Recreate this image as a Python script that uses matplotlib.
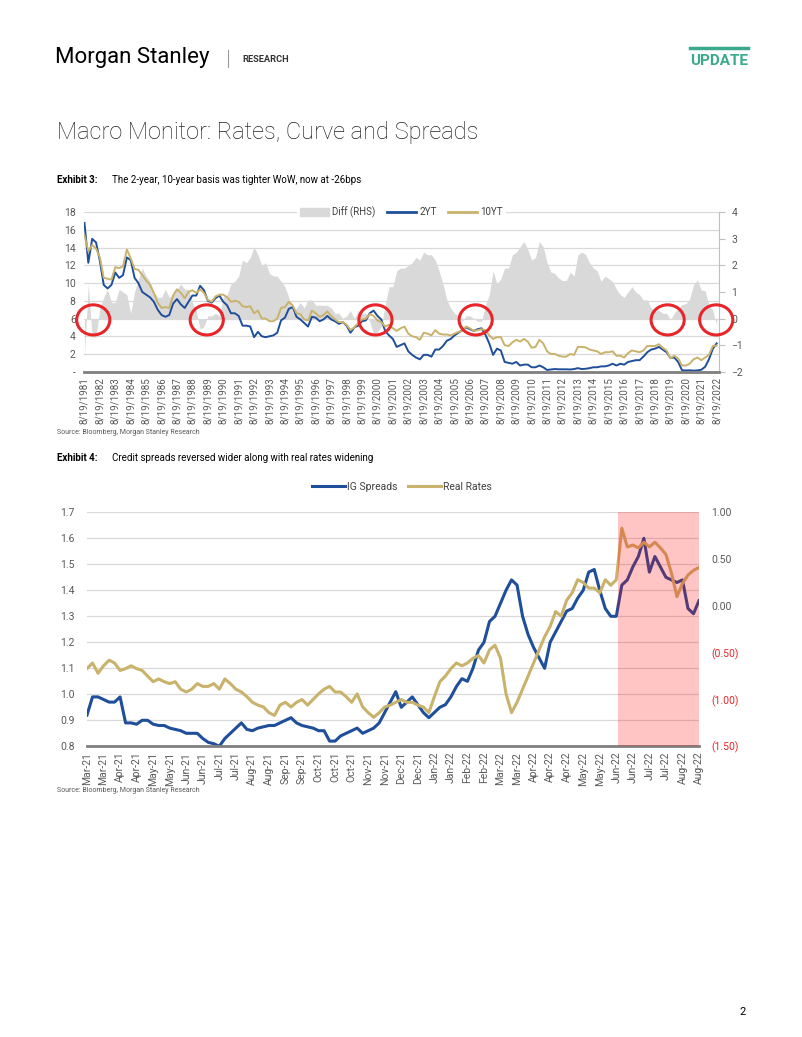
import numpy as np
import matplotlib
matplotlib.use("Agg")
import matplotlib.pyplot as plt
from matplotlib.patches import Ellipse, Patch
from matplotlib.lines import Line2D

# ---- Exhibit 3: quarterly UST yields (Aug/Nov/Feb/May), Aug-1981 .. Aug-2022
two_yr = [
    16.8, 12.3,
    15.0, 14.6, 12.5, 9.8,   9.4, 9.8, 11.2, 10.6,   10.9, 12.9, 12.6, 10.6,
    10.0, 9.0, 8.7, 8.4,     7.9, 7.0, 6.4, 6.2,     6.4, 7.7, 8.2, 7.6,
    7.2, 7.9, 8.6, 8.6,      9.7, 9.2, 8.0, 7.8,     8.3, 8.6, 7.9, 7.5,
    6.6, 6.6, 6.3, 5.2,      5.2, 5.1, 3.9, 4.5,     4.0, 3.9, 4.0, 4.1,
    4.4, 5.8, 6.1, 7.1,      7.3, 6.2, 5.9, 5.5,     5.1, 6.2, 6.1, 5.7,
    5.9, 6.3, 5.9, 5.7,      5.4, 5.6, 5.2, 4.4,     5.0, 5.2, 5.7, 5.8,
    6.6, 6.9, 6.3, 5.9,      4.6, 4.1, 3.7, 2.8,     3.0, 3.2, 2.3, 1.9,
    1.6, 1.4, 1.9, 1.9,      1.7, 2.5, 2.5, 2.9,     3.5, 3.7, 4.1, 4.4,
    4.7, 5.0, 4.8, 4.6,      4.8, 4.9, 4.2, 3.2,     1.9, 2.6, 2.4, 1.1,
    1.0, 0.9, 1.1, 0.7,      0.8, 0.8, 0.5, 0.5,     0.7, 0.5, 0.2, 0.25,
    0.3, 0.27, 0.27, 0.27,   0.25, 0.3, 0.4, 0.3,    0.33, 0.4, 0.5, 0.5,
    0.6, 0.6, 0.7, 0.9,      0.7, 0.9, 0.8, 1.1,     1.2, 1.3, 1.3, 1.7,
    2.2, 2.5, 2.6, 2.8,      2.5, 2.2, 1.55, 1.6,    1.1, 0.17, 0.14, 0.16,
    0.12, 0.15, 0.22, 0.55,  1.4, 2.6, 3.2,
]
ten_yr = [
    15.4, 13.6,
    14.3, 13.9, 12.9, 10.6,  10.5, 10.4, 11.8, 11.7,  11.9, 13.8, 12.8, 11.6,
    11.5, 10.9, 10.3, 9.8,   8.9, 7.8, 7.2, 7.3,     7.2, 8.6, 9.3, 8.9,
    8.3, 9.0, 9.2, 8.9,      9.3, 8.9, 8.1, 7.9,     8.5, 8.7, 8.7, 8.4,
    7.9, 8.0, 7.9, 7.4,      7.3, 7.4, 6.6, 6.9,     6.0, 6.0, 5.7, 5.7,
    6.0, 7.2, 7.3, 7.9,      7.5, 6.6, 6.5, 5.9,     5.8, 6.9, 6.6, 6.2,
    6.4, 6.8, 6.3, 5.9,      5.6, 5.6, 5.3, 4.7,     5.0, 5.5, 5.9, 6.0,
    6.5, 6.3, 5.8, 5.6,      5.1, 5.3, 4.9, 4.6,     4.9, 5.1, 4.3, 4.0,
    3.9, 3.6, 4.4, 4.3,      4.1, 4.7, 4.3, 4.2,     4.2, 4.1, 4.3, 4.5,
    4.6, 5.1, 4.9, 4.6,      4.7, 4.8, 4.7, 4.1,     3.7, 3.9, 3.9, 3.0,
    2.9, 3.3, 3.6, 3.4,      3.7, 3.4, 2.7, 2.8,     3.6, 3.2, 2.3, 2.0,
    2.0, 1.8, 1.7, 1.7,      2.0, 1.9, 2.8, 2.8,     2.75, 2.5, 2.4, 2.3,
    2.0, 2.2, 2.2, 2.3,      1.8, 1.8, 1.6, 2.1,     2.4, 2.3, 2.2, 2.4,
    2.9, 2.9, 2.9, 3.1,      2.7, 2.4, 1.5, 1.8,     1.5, 0.7, 0.7, 0.9,
    1.4, 1.6, 1.3, 1.6,      1.9, 2.9, 2.95,
]
label_years = list(range(1981, 2023))
circle_years = [1982.2, 1989.56, 2000.5, 2007.0, 2019.45, 2022.6]

# ---- Exhibit 4: IG spreads (LHS) and real rates (RHS), 3 obs per tick
ig_spreads = [
    0.92, 0.99, 0.99, 0.98, 0.97, 0.97, 0.99, 0.89, 0.89, 0.885,
    0.90, 0.90, 0.885, 0.88, 0.88, 0.87, 0.865, 0.86, 0.85, 0.85,
    0.85, 0.83, 0.815, 0.81, 0.80, 0.83, 0.85, 0.87, 0.89, 0.865,
    0.86, 0.87, 0.875, 0.88, 0.88, 0.89, 0.90, 0.91, 0.89, 0.88,
    0.875, 0.87, 0.86, 0.86, 0.82, 0.82, 0.84, 0.85, 0.86, 0.87,
    0.85, 0.86, 0.87, 0.89, 0.93, 0.97, 1.01, 0.95, 0.97, 0.99,
    0.96, 0.93, 0.91, 0.93, 0.95, 0.96, 0.99, 1.03, 1.06, 1.05,
    1.10, 1.17, 1.20, 1.28, 1.30, 1.35, 1.40, 1.44, 1.42, 1.30,
    1.23, 1.18, 1.14, 1.10, 1.20, 1.24, 1.28, 1.32, 1.33, 1.37,
    1.40, 1.47, 1.48, 1.40, 1.33, 1.30, 1.30, 1.42, 1.44, 1.49,
    1.53, 1.60, 1.47, 1.53, 1.49, 1.45, 1.44, 1.43, 1.44, 1.33,
    1.31, 1.36,
]
real_rates = [
    -0.67, -0.61, -0.72, -0.64, -0.58, -0.61, -0.69, -0.67, -0.64, -0.67,
    -0.69, -0.75, -0.81, -0.78, -0.81, -0.83, -0.81, -0.89, -0.92, -0.89,
    -0.83, -0.86, -0.86, -0.83, -0.89, -0.78, -0.83, -0.89, -0.92, -0.97,
    -1.03, -1.06, -1.08, -1.14, -1.17, -1.06, -1.03, -1.08, -1.03, -1.00,
    -1.06, -1.00, -0.94, -0.89, -0.86, -0.92, -0.92, -0.97, -1.03, -0.94,
    -1.08, -1.14, -1.19, -1.14, -1.08, -1.06, -1.03, -1.00, -1.03, -1.03,
    -1.06, -1.08, -1.14, -0.97, -0.81, -0.75, -0.67, -0.61, -0.64, -0.61,
    -0.56, -0.53, -0.61, -0.47, -0.42, -0.56, -0.94, -1.14, -1.03, -0.89,
    -0.75, -0.61, -0.47, -0.33, -0.22, -0.06, -0.11, 0.06, 0.14, 0.28,
    0.25, 0.19, 0.19, 0.14, 0.28, 0.22, 0.28, 0.83, 0.63, 0.65,
    0.62, 0.68, 0.63, 0.68, 0.62, 0.55, 0.35, 0.10, 0.24, 0.33,
    0.38, 0.41,
]
date_labels = [
    "Mar-21", "Mar-21", "Apr-21", "Apr-21", "May-21", "May-21", "Jun-21", "Jun-21",
    "Jul-21", "Jul-21", "Aug-21", "Aug-21", "Sep-21", "Sep-21", "Oct-21", "Oct-21",
    "Oct-21", "Nov-21", "Nov-21", "Dec-21", "Dec-21", "Jan-22", "Jan-22", "Feb-22",
    "Feb-22", "Mar-22", "Mar-22", "Apr-22", "Apr-22", "Apr-22", "May-22", "May-22",
    "Jun-22", "Jun-22", "Jul-22", "Jul-22", "Aug-22", "Aug-22",
]
shade_from = 32.1   # tick position where the shaded window starts

W, H = 802, 1037
BLUE = "#1F4E9A"
GOLD = "#C9B26B"
AREA = "#D9D9D9"
GRID = "#D9D9D9"
AXIS = "#7F7F7F"
TXT = "#595959"
RED = "#E8262A"

plt.rcParams["font.family"] = ["Roboto", "DejaVu Sans"]


def box(l, t, r, b):
    return [l / W, 1 - b / H, (r - l) / W, (b - t) / H]


def fx(x):
    return x / W


def fy(y):
    return 1 - y / H


fig = plt.figure(figsize=(W / 100, H / 100), dpi=100)

# ---- page header
fig.text(fx(55), fy(58), "Morgan Stanley", fontsize=16, color="black", va="center")
fig.add_artist(Line2D([fx(228), fx(228)], [fy(50), fy(67)], color="#999999", lw=0.8))
fig.text(fx(242), fy(59), "RESEARCH", fontsize=6.7, fontweight="bold", color="#333333", va="center")
fig.add_artist(Line2D([fx(690), fx(748)], [fy(48), fy(48)], color="#3AAA8C", lw=2.5))
fig.text(fx(748), fy(61), "UPDATE", fontsize=11, fontweight="bold", color="#3AAA8C",
         va="center", ha="right")
fig.text(fx(57), fy(133), "Macro Monitor: Rates, Curve and Spreads", fontsize=17,
         fontweight="light", color="#222222", va="center")

fig.text(fx(57), fy(180), "Exhibit 3:", fontsize=7, fontweight="bold", va="center")
fig.text(fx(112), fy(180), "The 2-year, 10-year basis was tighter WoW, now at -26bps",
         fontsize=7, va="center")
fig.text(fx(57), fy(432), "Source: Bloomberg, Morgan Stanley Research", fontsize=5,
         color=TXT, va="center")
fig.text(fx(57), fy(458), "Exhibit 4:", fontsize=7, fontweight="bold", va="center")
fig.text(fx(112), fy(458), "Credit spreads reversed wider along with real rates widening",
         fontsize=7, va="center")
fig.text(fx(57), fy(791), "Source: Bloomberg, Morgan Stanley Research", fontsize=5,
         color=TXT, va="center")
fig.text(fx(746), fy(1012), "2", fontsize=8, va="center", ha="right")

# ---- Exhibit 3
x1 = 1981.63 + 0.25 * np.arange(len(two_yr))
diff = np.array(ten_yr) - np.array(two_yr)

ax1 = fig.add_axes(box(84, 212.3, 719, 371.7))
ax1r = ax1.twinx()
ax1.set_zorder(ax1r.get_zorder() + 1)
ax1.patch.set_visible(False)

ax1r.fill_between(x1, 0, diff, color=AREA, linewidth=0)
ax1r.set_ylim(-2, 4)
ax1r.set_yticks(range(-2, 5))
ax1r.tick_params(axis="y", length=4, color="#BFBFBF", labelsize=7.5, labelcolor=TXT, pad=5)
for s in ["top", "left", "bottom"]:
    ax1r.spines[s].set_visible(False)
ax1r.spines["right"].set_color("#BFBFBF")

ax1.plot(x1, two_yr, color=BLUE, lw=1.4)
ax1.plot(x1, ten_yr, color=GOLD, lw=1.4)
ax1.set_xlim(1981.6, 2022.78)
ax1.set_ylim(0, 18)
ax1.set_yticks(range(0, 19, 2))
ax1.set_yticklabels(["-"] + [str(v) for v in range(2, 19, 2)])
ax1.yaxis.grid(True, color=GRID, lw=0.9)
ax1.set_axisbelow(True)
ax1.tick_params(axis="y", length=0, labelsize=7.5, labelcolor=TXT, pad=6)
ax1.set_xticks([y + 0.63 for y in label_years])
ax1.set_xticklabels([f"8/19/{y}" for y in label_years], rotation=90, fontsize=7.1, color=TXT)
ax1.tick_params(axis="x", length=0, pad=4)
for s in ["top", "left", "right"]:
    ax1.spines[s].set_visible(False)
ax1.spines["bottom"].set_color(AXIS)
ax1.spines["bottom"].set_linewidth(2)

for cx in circle_years:
    ax1.add_patch(Ellipse((cx, 5.85), width=2.15, height=3.4, fill=False,
                          edgecolor=RED, lw=2.2, zorder=10, clip_on=False))

h1 = [Patch(color=AREA), Line2D([], [], color=BLUE, lw=2), Line2D([], [], color=GOLD, lw=2)]
leg1 = ax1.legend(h1, ["Diff (RHS)", "2YT", "10YT"], loc="center", bbox_to_anchor=(0.5, 1.0),
                  ncol=3, fontsize=7, frameon=True, facecolor="white", edgecolor="none",
                  framealpha=1, handlelength=3, handleheight=0.9, handletextpad=0.3,
                  columnspacing=1.2, borderpad=0.3, fancybox=False)
for t in leg1.get_texts():
    t.set_color("#404040")

# ---- Exhibit 4
x2 = np.arange(len(ig_spreads)) / 3.0

ax2 = fig.add_axes(box(87, 512.3, 699, 746.3))
ax2r = ax2.twinx()
ax2.plot(x2, ig_spreads, color=BLUE, lw=2.2)
ax2r.plot(x2, real_rates, color=GOLD, lw=2.2)
ax2r.axvspan(shade_from, 37, color="red", alpha=0.23, lw=0, zorder=5)

ax2.set_xlim(0, 37)
ax2.set_ylim(0.8, 1.7)
ax2.set_yticks(np.round(np.arange(0.8, 1.71, 0.1), 1))
ax2.set_yticklabels([f"{v:.1f}" for v in np.arange(0.8, 1.71, 0.1)])
ax2.yaxis.grid(True, color=GRID, lw=0.9)
ax2.set_axisbelow(True)
ax2.tick_params(axis="y", length=0, labelsize=7.5, labelcolor=TXT, pad=9)
ax2.set_xticks(range(len(date_labels)))
ax2.set_xticklabels(date_labels, rotation=90, fontsize=7.5, color=TXT)
ax2.tick_params(axis="x", length=0, pad=4)
for s in ["top", "left", "right"]:
    ax2.spines[s].set_visible(False)
ax2.spines["bottom"].set_color(AXIS)
ax2.spines["bottom"].set_linewidth(2)

rticks = [-1.5, -1.0, -0.5, 0.0, 0.5, 1.0]
ax2r.set_ylim(-1.5, 1.0)
ax2r.set_yticks(rticks)
ax2r.set_yticklabels([f"({abs(v):.2f})" if v < 0 else f"{v:.2f}" for v in rticks])
for lab, v in zip(ax2r.get_yticklabels(), rticks):
    lab.set_color(RED if v < 0 else TXT)
ax2r.tick_params(axis="y", length=0, labelsize=7.5, pad=9)
for s in ax2r.spines.values():
    s.set_visible(False)

h2 = [Line2D([], [], color=BLUE, lw=2.2), Line2D([], [], color=GOLD, lw=2.2)]
leg2 = fig.legend(h2, ["IG Spreads", "Real Rates"], loc="center",
                  bbox_to_anchor=(fx(402), fy(487)), ncol=2, fontsize=7.5, frameon=False,
                  handlelength=3.2, handletextpad=0.2, columnspacing=1.0)
for t in leg2.get_texts():
    t.set_color("#404040")

fig.savefig("out.png", dpi=100)
